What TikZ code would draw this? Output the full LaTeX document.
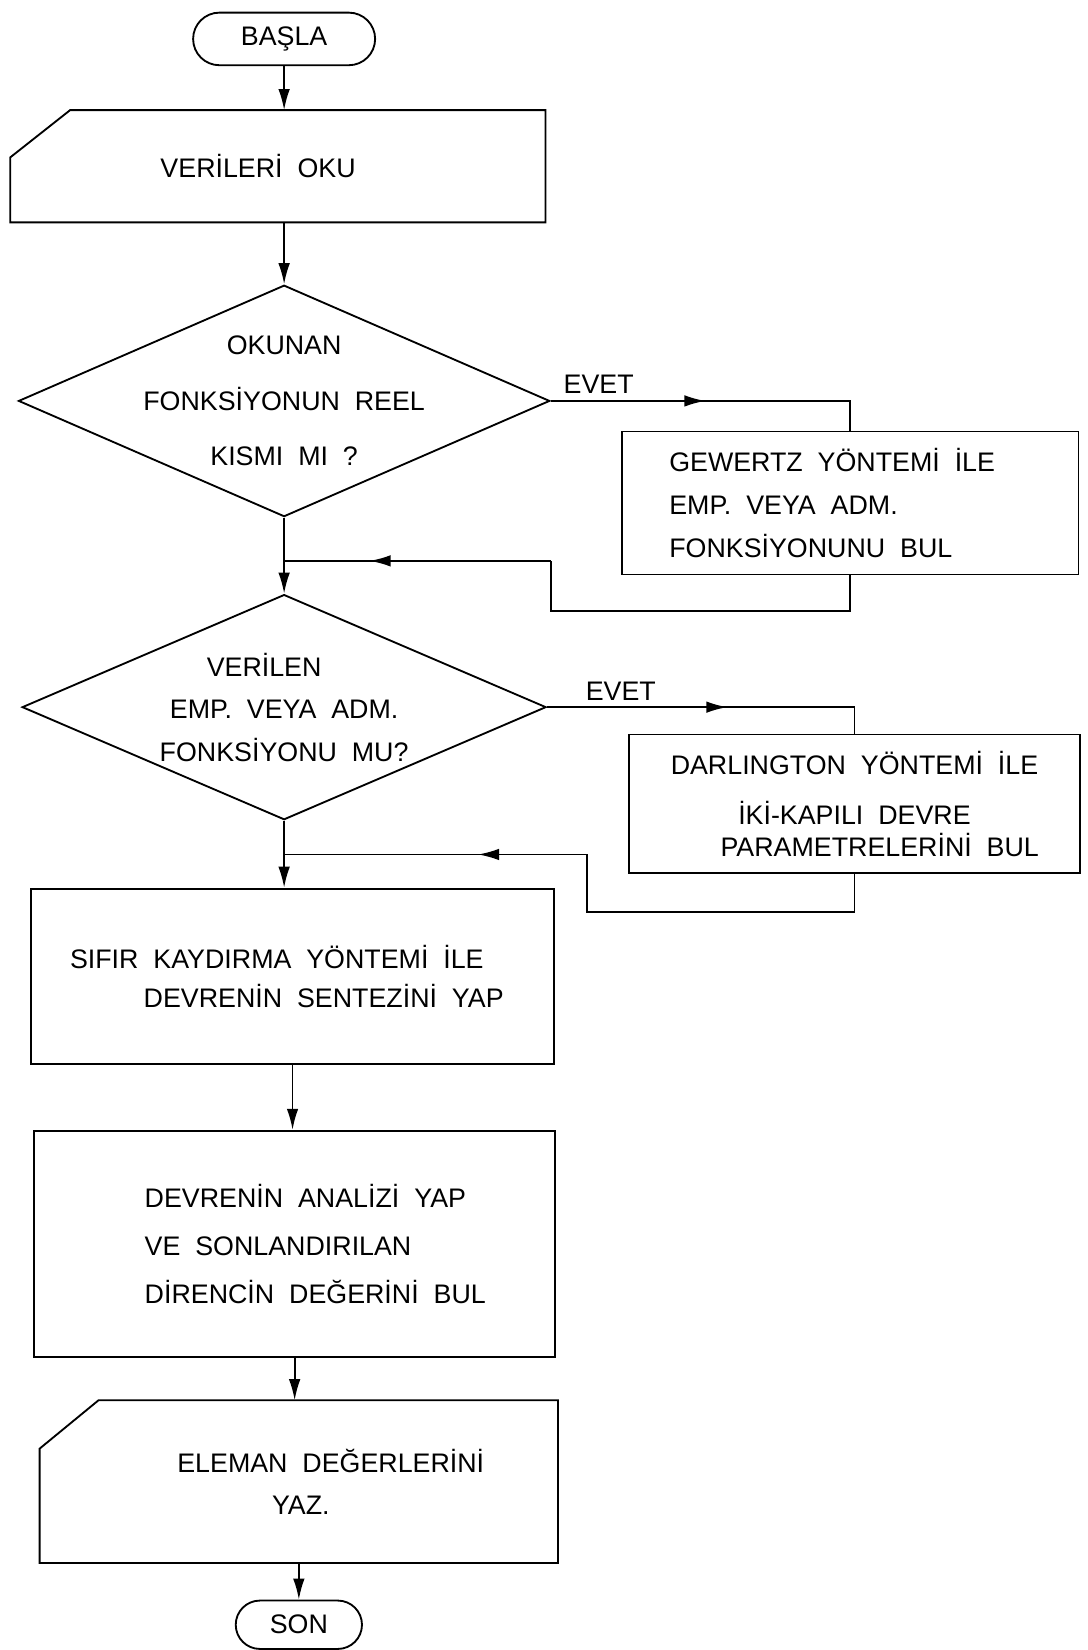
\documentclass[tikz,border=0pt]{standalone}
\usepackage{fontspec}
\setmainfont{Liberation Sans}[WordSpace=2]
\usepackage{tikz}
\usetikzlibrary{shapes, arrows.meta, decorations.markings}
\tikzstyle{block} = [draw, rectangle]
\tikzstyle{textblock} = [block, align=flush left, inner xsep=0pt]
\tikzstyle{card} = [rectangle, align=flush left, inner xsep=0pt]
\tikzstyle{terminal} = [draw, rounded rectangle, inner sep=0pt]
\tikzstyle{decision} = [draw, diamond, inner sep=0pt]
\tikzset{midarrow/.style={postaction={decorate},
    decoration={markings, mark=at position #1 with {\arrow{>}}}}}
% frame of a card node: cut corner at north west
\newcommand{\kartcerceve}[3]{%
  \draw (#1.north east) -- (#1.south east) -- (#1.south west)
    -- ([yshift=-#3]#1.north west) -- ([xshift=#2]#1.north west) -- cycle;}

\begin{document}
\begin{tikzpicture}[>={Latex[length=4mm,width=2.2mm]}, line width=1pt,
    x=0.02cm, y=-0.02cm, font=\fontsize{14.5}{23}\selectfont]
    \useasboundingbox (0,0) rectangle (1033,1568);

    \node [terminal, minimum width=3.46cm, minimum height=1cm] (basla) at (270,37) {BAŞLA};
    \node [card, text width=10.14cm, minimum height=2.1cm] (oku) at (264,158)
        {\hspace*{2.84cm}VERİLERİ OKU};
    \kartcerceve{oku}{1.14cm}{0.9cm}

    \node [decision, minimum width=10.1cm, minimum height=4.4cm] (reel) at (270,381) {};
    \node [align=center] (reelyazi) at (reel) {OKUNAN\\[7pt] FONKSİYONUN REEL\\[7pt] KISMI MI ?};
    \node [textblock, text width=8.68cm, minimum height=2.72cm] (gewertz) at (808,478)
        {\hspace*{0.9cm}GEWERTZ YÖNTEMİ İLE\\ \hspace*{0.9cm}EMP. VEYA ADM.\\ \hspace*{0.9cm}FONKSİYONUNU BUL};

    \node [decision, minimum width=9.96cm, minimum height=4.28cm] (verilen) at (270,672) {};
    \node [align=center] (verilenyazi) at (verilen) {\hspace*{-0.76cm}VERİLEN\\ EMP. VEYA ADM.\\ FONKSİYONU MU?};
    \node [block, minimum width=8.56cm, minimum height=2.64cm, align=center] (darlington) at (812,764)
        {DARLINGTON YÖNTEMİ İLE\\[4pt] İKİ-KAPILI DEVRE\\[-6pt] \hspace*{0.96cm}PARAMETRELERİNİ BUL};

    \node [textblock, text width=9.94cm, minimum height=3.34cm] (sifir) at (278,928)
        {\hspace*{0.74cm}SIFIR KAYDIRMA YÖNTEMİ İLE\\[-2pt] \hspace*{2.14cm}DEVRENİN SENTEZİNİ YAP};
    \node [textblock, text width=9.9cm, minimum height=4.3cm] (analiz) at (280,1182)
        {\hspace*{2.1cm}DEVRENİN ANALİZİ YAP\\[3pt] \hspace*{2.1cm}VE SONLANDIRILAN\\[3pt]
         \hspace*{2.1cm}DİRENCİN DEĞERİNİ BUL};
    \node [card, text width=9.82cm, minimum height=3.06cm] (yaz) at (284,1408)
        {\hspace*{2.6cm}ELEMAN DEĞERLERİNİ\\ \hspace*{4.4cm}YAZ.};
    \kartcerceve{yaz}{1.12cm}{0.92cm}
    \node [terminal, minimum width=2.4cm, minimum height=0.92cm] (son) at (284,1544) {SON};

    \coordinate (kose1) at (524,533);
    \coordinate (don1) at (reel.south |- kose1);
    \coordinate (kose2) at (558,812);
    \coordinate (don2) at (verilen.south |- kose2);

    \draw [->] (basla.south) -- (basla.south |- oku.north);
    \draw [->] (reel.north |- oku.south) -- (reel.north);
    \draw [midarrow=0.47] (reel.east) -- node [above, pos=0.16] {EVET}
        (reel.east -| gewertz.north) -- (gewertz.north);
    \draw (gewertz.south) -- ++(0,34) -| (kose1);
    \draw [midarrow=0.68] (kose1) -- (don1);
    \draw (reel.south) -- (don1);
    \draw [->] (don1) -- (verilen.north);
    \draw [midarrow=0.54] (verilen.east) -- node [above, pos=0.24] {EVET}
        (verilen.east -| darlington.north) -- (darlington.north);
    \draw (darlington.south) -- ++(0,36) -| (kose2);
    \draw [midarrow=0.36] (kose2) -- (don2);
    \draw (verilen.south) -- (don2);
    \draw [->] (don2) -- (don2 |- sifir.north);
    \draw [->] (sifir.south) -- (sifir.south |- analiz.north);
    \draw [->] (analiz.south) -- (analiz.south |- yaz.north);
    \draw [->] (yaz.south) -- (yaz.south |- son.north);
\end{tikzpicture}
\end{document}
